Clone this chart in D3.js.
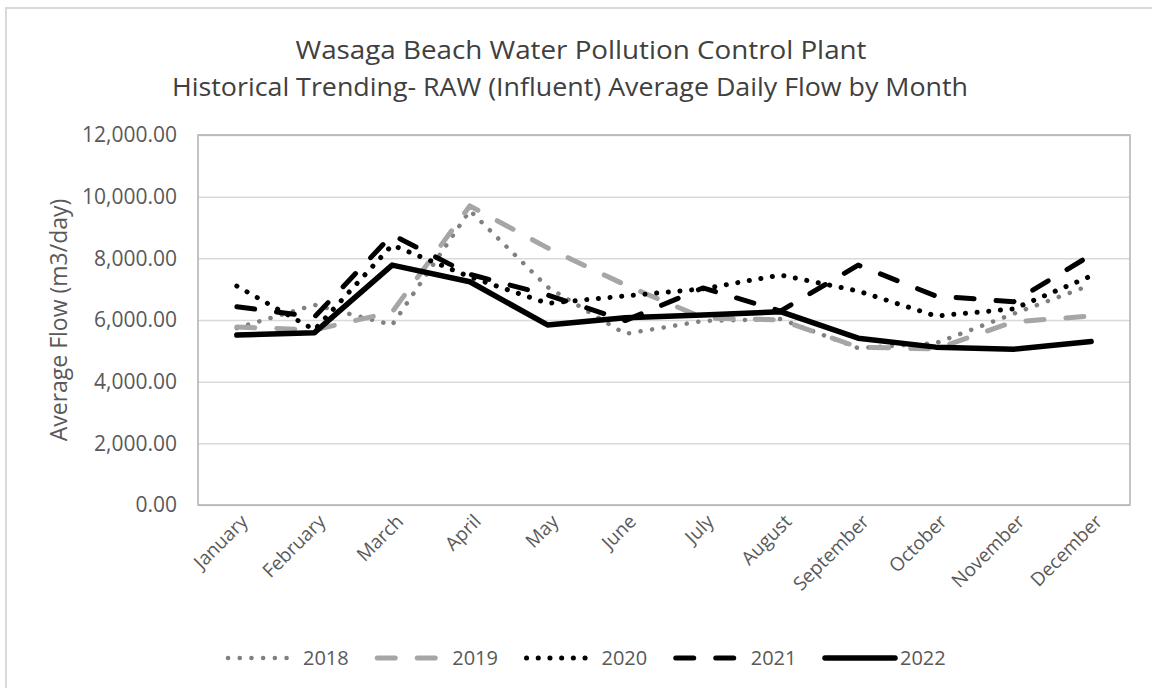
<!DOCTYPE html>
<html>
<head>
<meta charset="utf-8">
<script src="https://cdn.jsdelivr.net/npm/d3@7"></script>
<style>
  body { margin: 0; background: #fff; }
  svg { display: block; font-family: "Open Sans", Lato, sans-serif; }
  .tick text { fill: #595959; font-family: "Open Sans", Lato, sans-serif; }
</style>
</head>
<body>
<svg id="chart" width="1152" height="688"></svg>
<script>
const months = ["January", "February", "March", "April", "May", "June", "July",
                "August", "September", "October", "November", "December"];
const years = ["2018", "2019", "2020", "2021", "2022"];
const flow2018 = [5740, 6490, 5840, 9550, 7070, 5550, 5970, 6030, 5090, 5250, 6200, 7140];
const flow2019 = [5770, 5680, 6260, 9700, 8340, 7140, 6070, 6000, 5120, 5060, 5940, 6130];
const flow2020 = [7100, 5680, 8430, 7400, 6540, 6780, 7010, 7460, 6940, 6130, 6360, 7430];
const flow2021 = [6430, 6100, 8760, 7480, 6810, 5980, 7040, 6290, 7780, 6780, 6590, 8110];
const flow2022 = [5510, 5590, 7780, 7240, 5840, 6070, 6160, 6270, 5410, 5120, 5050, 5300];
const yTicks = [0, 2000, 4000, 6000, 8000, 10000, 12000];

// line look for each year, same order as years
const styles = [
  {color: "#808080", width: 4.5, dash: "0.1,11.6"},
  {color: "#a6a6a6", width: 5, dash: "18,22"},
  {color: "#000000", width: 5, dash: "0.1,11.6"},
  {color: "#000000", width: 5, dash: "18,22"},
  {color: "#000000", width: 5.5, dash: null}
];

const series = [flow2018, flow2019, flow2020, flow2021, flow2022].map(function (vals, i) {
    return {year: years[i], style: styles[i], values: vals.map(function (v, j) {
        return {month: months[j], value: v};
    })};
});

const plot = {left: 198, right: 1130, top: 135, bottom: 505};

const svg = d3.select("#chart");

// outer chart frame
svg.append("rect")
    .attr("x", 6).attr("y", 8)
    .attr("width", 1200).attr("height", 720)
    .attr("fill", "none")
    .attr("stroke", "#d9d9d9")
    .attr("stroke-width", 2);

const x = d3.scalePoint()
    .domain(months)
    .range([plot.left, plot.right])
    .padding(0.5);

const y = d3.scaleLinear()
    .domain([0, 12000])
    .range([plot.bottom, plot.top]);

// gridlines + y labels
const yAxis = svg.append("g")
    .attr("transform", "translate(" + plot.left + ",0)")
    .call(d3.axisLeft(y)
        .tickValues(yTicks)
        .tickFormat(d3.format(",.2f"))
        .tickSize(-(plot.right - plot.left))
        .tickPadding(21));
yAxis.select(".domain").remove();
yAxis.selectAll(".tick line").attr("stroke", "#d9d9d9").attr("stroke-width", 1.5);
yAxis.selectAll(".tick text").style("font-size", "21px");

// plot area box
svg.append("rect")
    .attr("x", plot.left).attr("y", plot.top)
    .attr("width", plot.right - plot.left)
    .attr("height", plot.bottom - plot.top)
    .attr("fill", "none")
    .attr("stroke", "#b0b0b0")
    .attr("stroke-width", 1.5);

// month labels
const xAxis = svg.append("g")
    .attr("transform", "translate(0," + plot.bottom + ")")
    .call(d3.axisBottom(x).tickSize(0).tickPadding(0));
xAxis.select(".domain").remove();
xAxis.selectAll(".tick text")
    .style("font-size", "19px")
    .attr("text-anchor", "end")
    .attr("dy", "0.35em")
    .attr("transform", "translate(7,13) rotate(-45)");

svg.append("text")
    .attr("transform", "translate(59," + ((plot.top + plot.bottom) / 2) + ") rotate(-90)")
    .attr("text-anchor", "middle")
    .attr("dy", "0.35em")
    .attr("fill", "#595959")
    .style("font-size", "23px")
    .text("Average Flow (m3/day)");

// titles
svg.append("text")
    .attr("x", 581).attr("y", 59)
    .attr("text-anchor", "middle")
    .attr("fill", "#404040")
    .attr("textLength", 571)
    .attr("lengthAdjust", "spacingAndGlyphs")
    .style("font-size", "25px")
    .text("Wasaga Beach Water Pollution Control  Plant");
svg.append("text")
    .attr("x", 570).attr("y", 96)
    .attr("text-anchor", "middle")
    .attr("fill", "#404040")
    .attr("textLength", 796)
    .attr("lengthAdjust", "spacingAndGlyphs")
    .style("font-size", "25px")
    .text("Historical Trending- RAW (Influent) Average Daily Flow by Month");

const line = d3.line()
    .x(function (d) { return x(d.month); })
    .y(function (d) { return y(d.value); });

svg.append("g")
    .selectAll("path")
    .data(series)
    .enter()
    .append("path")
    .attr("d", function (d) { return line(d.values); })
    .attr("fill", "none")
    .attr("stroke", function (d) { return d.style.color; })
    .attr("stroke-width", function (d) { return d.style.width; })
    .attr("stroke-dasharray", function (d) { return d.style.dash; })
    .attr("stroke-linecap", "round")
    .attr("stroke-linejoin", "round");

// legend
const legendX = d3.scalePoint().domain(years).range([228, 825]);
const lg = svg.append("g")
    .selectAll("g")
    .data(series)
    .enter()
    .append("g")
    .attr("transform", function (d) { return "translate(" + legendX(d.year) + ",658)"; });

lg.append("line")
    .attr("x1", 0)
    .attr("x2", function (d) { return d.style.dash ? 64 : 70; })
    .attr("stroke", function (d) { return d.style.color; })
    .attr("stroke-width", function (d) { return d.style.width; })
    .attr("stroke-dasharray", function (d) { return d.style.dash; })
    .attr("stroke-linecap", "round");

lg.append("text")
    .attr("x", 75)
    .attr("dy", "0.35em")
    .attr("fill", "#595959")
    .style("font-size", "20px")
    .text(function (d) { return d.year; });
</script>
</body>
</html>
